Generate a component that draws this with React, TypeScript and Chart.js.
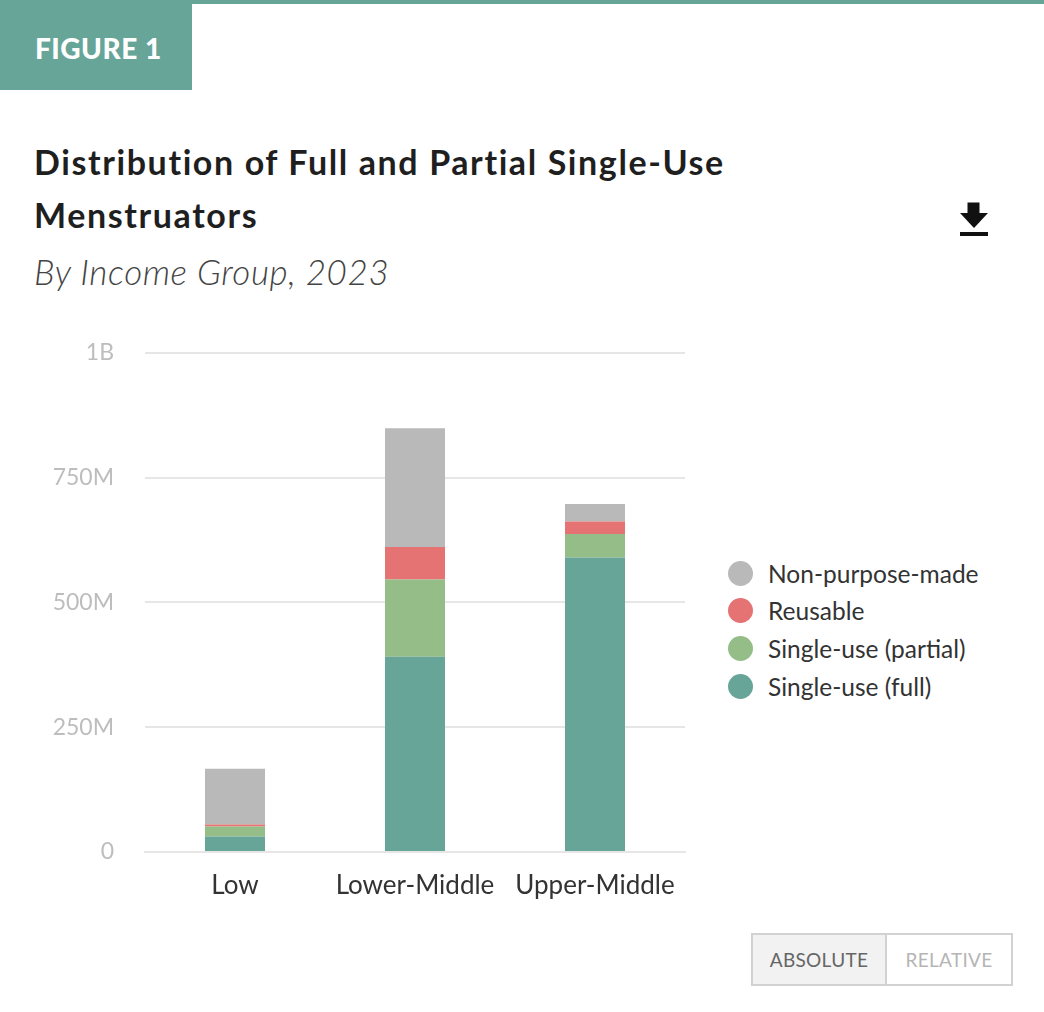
import React, { useEffect, useRef } from "react";
import { Chart, registerables } from "chart.js";

Chart.register(...registerables);

const categories = ["Low", "Lower-Middle", "Upper-Middle"];
const seriesNames = ["Single-use (full)", "Single-use (partial)", "Reusable", "Non-purpose-made"];
// values in millions of menstruators
const singleUseFull = [31, 391, 590];
const singleUsePartial = [20, 155, 47];
const reusable = [4, 65, 25];
const nonPurposeMade = [112, 238, 35];
const yTicks = [0, 250, 500, 750, 1000];
const yTickLabels = ["0", "250M", "500M", "750M", "1B"];

const TEAL = "#68a599";
const GREEN = "#94bd88";
const RED = "#e57373";
const GRAY = "#b9b9b9";
const FONT = "Lato, 'Liberation Sans', sans-serif";

const legendItems = [
  { label: seriesNames[3], color: GRAY },
  { label: seriesNames[2], color: RED },
  { label: seriesNames[1], color: GREEN },
  { label: seriesNames[0], color: TEAL },
];

export default function App() {
  const canvasRef = useRef<HTMLCanvasElement | null>(null);

  useEffect(() => {
    if (!canvasRef.current) return;
    const chart = new Chart(canvasRef.current, {
      type: "bar",
      data: {
        labels: categories,
        datasets: [
          { label: seriesNames[0], data: singleUseFull, backgroundColor: TEAL },
          { label: seriesNames[1], data: singleUsePartial, backgroundColor: GREEN },
          { label: seriesNames[2], data: reusable, backgroundColor: RED },
          { label: seriesNames[3], data: nonPurposeMade, backgroundColor: GRAY },
        ].map((d) => ({ ...d, barPercentage: 1 / 3, categoryPercentage: 1, borderWidth: 0 })),
      },
      options: {
        animation: false,
        responsive: false,
        maintainAspectRatio: false,
        layout: { padding: { top: 20, right: 35, left: 0, bottom: 0 } },
        plugins: { legend: { display: false }, tooltip: { enabled: false } },
        scales: {
          x: {
            stacked: true,
            grid: { display: false, drawTicks: false },
            border: { display: true, color: "#e6e6e6", width: 2 },
            ticks: { color: "#333", font: { family: FONT, size: 26 }, padding: 18 },
            afterFit: (s: any) => { s.height = 68; },
          },
          y: {
            stacked: true,
            min: 0,
            max: 1000,
            afterBuildTicks: (s: any) => { s.ticks = yTicks.map((v) => ({ value: v })); },
            grid: { color: "#e6e6e6", lineWidth: 2, drawTicks: false },
            border: { display: false },
            ticks: {
              color: "#bdbdbd",
              font: { family: FONT, size: 23 },
              padding: 31,
              callback: (v: any) => {
                const i = yTicks.indexOf(Number(v));
                return i >= 0 ? yTickLabels[i] : "";
              },
            },
            afterFit: (s: any) => { s.width = 145; },
          },
        },
      },
    });
    return () => chart.destroy();
  }, []);

  return (
    <div style={{ position: "absolute", left: 0, top: 0, width: 1044, height: 1012, background: "#fff", fontFamily: FONT, overflow: "hidden" }}>
      <div style={{ position: "absolute", left: 192, top: 0, width: 852, height: 4, background: TEAL }} />
      <div style={{ position: "absolute", left: 0, top: 0, width: 192, height: 90, background: TEAL }} />
      <div style={{ position: "absolute", left: 35, top: 30, color: "#fff", fontWeight: 900, fontSize: 28, lineHeight: "36px", letterSpacing: 0.5 }}>FIGURE 1</div>

      <div style={{ position: "absolute", left: 34, top: 135, color: "#1f1f1f", fontWeight: 700, fontSize: 34, lineHeight: "53px", letterSpacing: 1.6, whiteSpace: "nowrap" }}>
        Distribution of Full and Partial Single-Use<br />Menstruators
      </div>
      <div style={{ position: "absolute", left: 34, top: 248, color: "#444", fontWeight: 300, fontStyle: "italic", fontSize: 35, lineHeight: "46px", letterSpacing: 0.6, whiteSpace: "nowrap" }}>
        By Income Group, 2023
      </div>

      <svg style={{ position: "absolute", left: 958, top: 200 }} width={32} height={40} viewBox="0 0 32 40">
        <rect x={9.5} y={2.5} width={12} height={12} fill="#111" />
        <polygon points="2,13 30,13 16,28" fill="#111" />
        <rect x={2} y={32} width={28} height={4} fill="#111" />
      </svg>

      <canvas ref={canvasRef} width={720} height={612} style={{ position: "absolute", left: 0, top: 308, width: 720, height: 612 }} />

      {legendItems.map((it, i) => (
        <div key={it.label} style={{ position: "absolute", left: 728, top: 573 + i * 37.8 - 16, height: 32, display: "flex", alignItems: "center", whiteSpace: "nowrap" }}>
          <span style={{ display: "inline-block", width: 25, height: 25, borderRadius: "50%", background: it.color }} />
          <span style={{ marginLeft: 15, fontSize: 24.5, color: "#333" }}>{it.label}</span>
        </div>
      ))}

      <div style={{ position: "absolute", left: 751, top: 933, width: 262, height: 53, boxSizing: "border-box", border: "2px solid #d2d2d2", display: "flex" }}>
        <div style={{ width: 132, height: "100%", background: "#f2f2f2", borderRight: "2px solid #d2d2d2", display: "flex", alignItems: "center", justifyContent: "center", fontSize: 19, color: "#666", letterSpacing: 0.3 }}>ABSOLUTE</div>
        <div style={{ flex: 1, height: "100%", display: "flex", alignItems: "center", justifyContent: "center", fontSize: 19, color: "#b5b5b5", letterSpacing: 0.3 }}>RELATIVE</div>
      </div>
    </div>
  );
}
